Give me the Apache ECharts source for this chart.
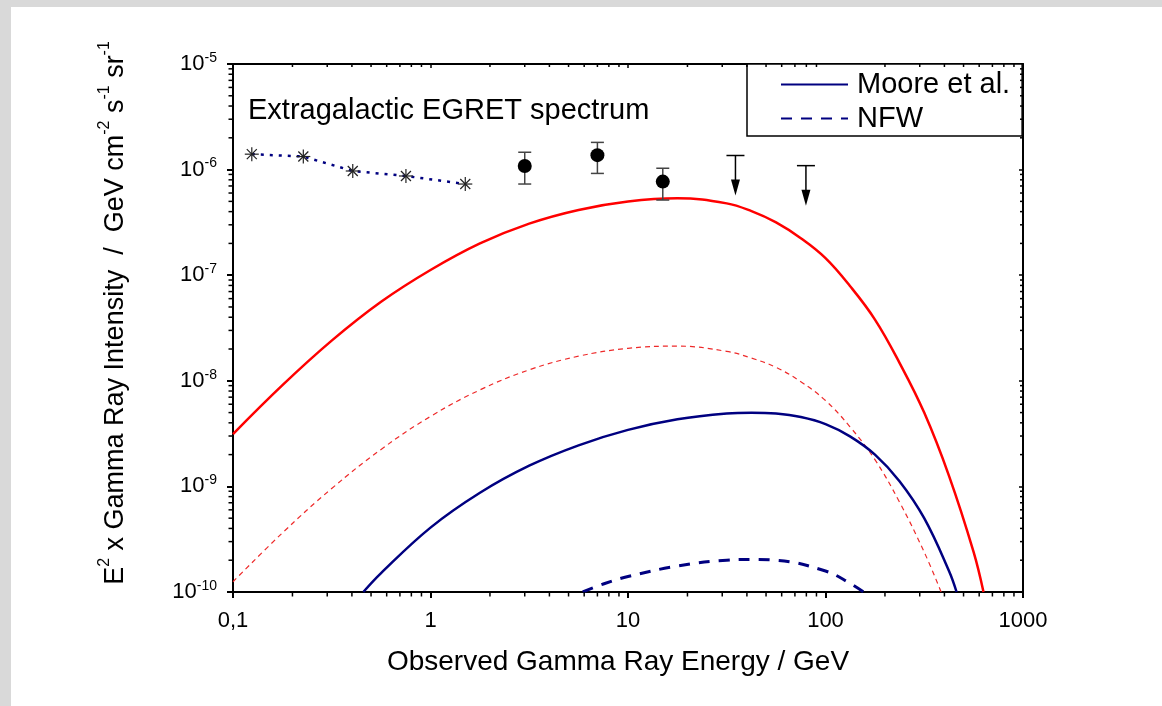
<!DOCTYPE html>
<html>
<head>
<meta charset="utf-8">
<script src="https://cdn.jsdelivr.net/npm/echarts@6/dist/echarts.min.js"></script>
<style>
html,body{margin:0;padding:0;background:#fff;}
#bg{position:absolute;left:0;top:0;width:1162px;height:706px;background:#d9d9d9;}
#panel{position:absolute;left:11px;top:7px;width:1151px;height:699px;background:#fff;}
#chart{position:absolute;left:0;top:0;width:1162px;height:706px;}
</style>
</head>
<body>
<div id="bg"><div id="panel"></div></div>
<div id="chart"></div>
<script>
// ---- tick labels ----
const xTickLabels = ['0,1', '1', '10', '100', '1000'];
const yTickExps = ['-10', '-9', '-8', '-7', '-6', '-5'];
const minorMultipliers = [2, 3, 4, 5, 6, 7, 8, 9];
const xDecades = [0.1, 1, 10, 100];
const yDecades = [1e-10, 1e-9, 1e-8, 1e-7, 1e-6];

// ---- curves (energy GeV, E^2 x intensity) ----
const redSolidE = [0.1, 0.178, 0.316, 0.562, 1.0, 1.78, 3.16, 5.62, 10, 17.8, 31.6, 42.2, 56.2, 75, 100, 133, 178, 237, 316, 422, 562, 631];
const redSolidI = [3.13e-9, 9.1e-9, 2.4e-8, 5.6e-8, 1.12e-7, 2.0e-7, 3.08e-7, 4.15e-7, 4.99e-7, 5.35e-7, 4.79e-7, 4.04e-7, 3.16e-7, 2.24e-7, 1.45e-7, 7.9e-8, 3.8e-8, 1.48e-8, 5.0e-9, 1.26e-9, 2.4e-10, 1.0e-10];

const redDashE = [0.1, 0.178, 0.316, 0.562, 1.0, 1.78, 3.16, 5.62, 10, 17.8, 31.6, 42.2, 56.2, 75, 100, 133, 178, 237, 316, 385];
const redDashI = [1.25e-10, 3.63e-10, 9.55e-10, 2.24e-9, 4.6e-9, 8.2e-9, 1.27e-8, 1.71e-8, 2.03e-8, 2.13e-8, 1.9e-8, 1.64e-8, 1.34e-8, 9.8e-9, 6.5e-9, 3.67e-9, 1.79e-9, 7.1e-10, 2.39e-10, 1.0e-10];

const mooreE = [0.457, 0.562, 1.0, 1.78, 3.16, 5.62, 10, 17.8, 31.6, 42.2, 56.2, 75, 100, 133, 178, 237, 316, 422, 461];
const mooreI = [1.0e-10, 1.51e-10, 4.07e-10, 8.7e-10, 1.57e-9, 2.45e-9, 3.43e-9, 4.32e-9, 4.9e-9, 4.99e-9, 4.9e-9, 4.54e-9, 3.89e-9, 2.98e-9, 2.0e-9, 1.12e-9, 5.0e-10, 1.58e-10, 1.0e-10];

const nfwE = [5.9, 7.5, 10, 17.8, 31.6, 42.2, 56.2, 100, 133, 156];
const nfwI = [1.0e-10, 1.19e-10, 1.40e-10, 1.76e-10, 2.0e-10, 2.03e-10, 2.0e-10, 1.58e-10, 1.21e-10, 1.0e-10];

// ---- EGRET data ----
const egretLowE = [0.1245, 0.227, 0.404, 0.751, 1.5];
const egretLowI = [1.40e-6, 1.33e-6, 0.97e-6, 0.87e-6, 0.73e-6];

const egretHighE = [3.0, 7.0, 15.0];
const egretHighI = [1.08e-6, 1.37e-6, 7.7e-7];
const egretHighLo = [7.3e-7, 9.2e-7, 5.15e-7];
const egretHighHi = [1.46e-6, 1.81e-6, 1.03e-6];

const upperLimitE = [35, 79.6];
const upperLimitI = [1.36e-6, 1.09e-6];

// ---- build ----
const zip = (a, b) => a.map((v, i) => [v, b[i]]);
const minorData = [];
xDecades.forEach(d => minorMultipliers.forEach(m => {
  minorData.push([m * d, 1e-10, 0]);
  minorData.push([m * d, 1e-5, 1]);
}));
yDecades.forEach(d => minorMultipliers.forEach(m => {
  minorData.push([0.1, m * d, 2]);
  minorData.push([1000, m * d, 3]);
}));

const FONT = '"Liberation Sans", Arial, Helvetica, sans-serif';
const NAVY = '#000080';
const SMOOTH = 0.4;

const chart = echarts.init(document.getElementById('chart'), null, {renderer: 'canvas'});

const axisCommon = {
  axisLine: {show: true, onZero: false, lineStyle: {color: '#000', width: 2}},
  splitLine: {show: false},
  minorTick: {show: false},
  minorSplitLine: {show: false}
};

const option = {
  backgroundColor: 'transparent',
  animation: false,
  textStyle: {fontFamily: FONT, color: '#000'},
  title: {
    text: 'Extragalactic EGRET spectrum',
    left: 248, top: 96, padding: 0,
    textStyle: {fontFamily: FONT, fontSize: 29, fontWeight: 'normal', color: '#000'}
  },
  legend: {
    data: ['Moore et al.', 'NFW'],
    orient: 'vertical',
    left: 747, top: 64,
    padding: [6, 12, 3, 33],
    itemWidth: 67, itemHeight: 14, itemGap: 5,
    borderColor: '#000', borderWidth: 1.5, borderRadius: 0,
    backgroundColor: '#fff',
    selectedMode: false,
    itemStyle: {color: 'rgba(0,0,0,0)', borderColor: 'rgba(0,0,0,0)', borderWidth: 0, opacity: 0},
    textStyle: {fontFamily: FONT, fontSize: 29, color: '#000', lineHeight: 28, padding: [0, 0, 0, 4]}
  },
  grid: {left: 233, top: 64, width: 790, height: 528, containLabel: false},
  xAxis: [
    Object.assign({}, axisCommon, {
      type: 'log', logBase: 10, min: 0.1, max: 1000, splitNumber: 4,
      position: 'bottom',
      axisTick: {show: true, inside: false, length: 6, lineStyle: {color: '#000', width: 2}},
      axisLabel: {
        show: true, margin: 18, fontSize: 22, color: '#000', fontFamily: FONT,
        formatter: (v, i) => xTickLabels[i]
      },
      name: 'Observed Gamma Ray Energy / GeV',
      nameLocation: 'middle', nameGap: 56,
      nameTextStyle: {fontSize: 28, color: '#000', fontFamily: FONT, padding: [0, 20, 0, 0]}
    }),
    Object.assign({}, axisCommon, {
      type: 'log', logBase: 10, min: 0.1, max: 1000, splitNumber: 4,
      position: 'top',
      axisTick: {show: true, inside: true, length: 4, lineStyle: {color: '#000', width: 1.5}},
      axisLabel: {show: false}
    })
  ],
  yAxis: [
    Object.assign({}, axisCommon, {
      type: 'log', logBase: 10, min: 1e-10, max: 1e-5, splitNumber: 5,
      position: 'left',
      axisTick: {show: true, inside: false, length: 6, lineStyle: {color: '#000', width: 2}},
      axisLabel: {
        show: true, margin: 16, color: '#000', fontFamily: FONT,
        formatter: (v, i) => '{b|10}{s|' + yTickExps[i] + '}',
        rich: {
          b: {fontSize: 22, lineHeight: 26, verticalAlign: 'middle', fontFamily: FONT, color: '#000'},
          s: {fontSize: 14, lineHeight: 26, verticalAlign: 'top', fontFamily: FONT, color: '#000'}
        }
      },
      name: '{m|E}{s|2}{m| x Gamma Ray Intensity  /  GeV cm}{s|-2}{m| s}{s|-1}{m| sr}{s|-1}',
      nameLocation: 'middle', nameGap: 104, nameRotate: 90,
      nameTextStyle: {
        fontFamily: FONT, color: '#000', padding: [0, 0, 0, 30],
        rich: {
          m: {fontSize: 27, lineHeight: 32, verticalAlign: 'bottom', fontFamily: FONT, color: '#000'},
          s: {fontSize: 16, lineHeight: 32, verticalAlign: 'top', fontFamily: FONT, color: '#000'}
        }
      }
    }),
    Object.assign({}, axisCommon, {
      type: 'log', logBase: 10, min: 1e-10, max: 1e-5, splitNumber: 5,
      position: 'right',
      axisTick: {show: true, inside: true, length: 4, lineStyle: {color: '#000', width: 1.5}},
      axisLabel: {show: false}
    })
  ],
  series: [
    {
      name: 'Moore (red)', type: 'line', data: zip(redSolidE, redSolidI),
      showSymbol: false, symbol: 'none', smooth: SMOOTH,
      lineStyle: {color: '#ff0000', width: 2.5}, z: 3
    },
    {
      name: 'NFW (red)', type: 'line', data: zip(redDashE, redDashI),
      showSymbol: false, symbol: 'none', smooth: SMOOTH,
      lineStyle: {color: '#ee2a2a', width: 1.2, type: [5, 4]}, z: 3
    },
    {
      name: 'Moore et al.', type: 'line', data: zip(mooreE, mooreI),
      showSymbol: false, symbol: 'none', smooth: SMOOTH,
      itemStyle: {color: NAVY},
      lineStyle: {color: NAVY, width: 2.5}, z: 3
    },
    {
      name: 'NFW', type: 'line', data: zip(nfwE, nfwI),
      showSymbol: false, symbol: 'none', smooth: SMOOTH,
      itemStyle: {color: NAVY},
      lineStyle: {color: NAVY, width: 3, type: [11, 9]}, z: 3
    },
    {
      name: 'EGRET low', type: 'line', data: zip(egretLowE, egretLowI),
      showSymbol: false, symbol: 'none',
      lineStyle: {color: NAVY, width: 2.5, type: [3, 6]}, z: 4
    },
    {
      name: 'EGRET low markers', type: 'custom', data: zip(egretLowE, egretLowI),
      silent: true, z: 5,
      renderItem: (params, api) => {
        const p = api.coord([api.value(0), api.value(1)]);
        const r = 7, d = 5;
        const st = {stroke: '#222', lineWidth: 1.2};
        return {type: 'group', children: [
          {type: 'line', shape: {x1: p[0], y1: p[1] - r, x2: p[0], y2: p[1] + r}, style: st},
          {type: 'line', shape: {x1: p[0] - r, y1: p[1], x2: p[0] + r, y2: p[1]}, style: st},
          {type: 'line', shape: {x1: p[0] - d, y1: p[1] - d, x2: p[0] + d, y2: p[1] + d}, style: st},
          {type: 'line', shape: {x1: p[0] - d, y1: p[1] + d, x2: p[0] + d, y2: p[1] - d}, style: st}
        ]};
      }
    },
    {
      name: 'EGRET errors', type: 'custom',
      data: egretHighE.map((e, i) => [e, egretHighI[i], egretHighLo[i], egretHighHi[i]]),
      silent: true, z: 5,
      renderItem: (params, api) => {
        const top = api.coord([api.value(0), api.value(3)]);
        const bot = api.coord([api.value(0), api.value(2)]);
        const w = 6.5;
        const st = {stroke: '#444', lineWidth: 1.5};
        return {type: 'group', children: [
          {type: 'line', shape: {x1: top[0], y1: top[1], x2: bot[0], y2: bot[1]}, style: st},
          {type: 'line', shape: {x1: top[0] - w, y1: top[1], x2: top[0] + w, y2: top[1]}, style: st},
          {type: 'line', shape: {x1: bot[0] - w, y1: bot[1], x2: bot[0] + w, y2: bot[1]}, style: st}
        ]};
      }
    },
    {
      name: 'EGRET', type: 'scatter', data: zip(egretHighE, egretHighI),
      symbol: 'circle', symbolSize: 14,
      itemStyle: {color: '#000', opacity: 1}, z: 6
    },
    {
      name: 'Upper limits', type: 'custom', data: zip(upperLimitE, upperLimitI),
      silent: true, z: 5,
      renderItem: (params, api) => {
        const p = api.coord([api.value(0), api.value(1)]);
        const len = 40, head = 16, hw = 4.5, cw = 9;
        const st = {stroke: '#000', lineWidth: 1.5};
        return {type: 'group', children: [
          {type: 'line', shape: {x1: p[0] - cw, y1: p[1], x2: p[0] + cw, y2: p[1]}, style: st},
          {type: 'line', shape: {x1: p[0], y1: p[1], x2: p[0], y2: p[1] + len - head + 1}, style: st},
          {type: 'polygon', shape: {points: [[p[0] - hw, p[1] + len - head], [p[0] + hw, p[1] + len - head], [p[0], p[1] + len]]}, style: {fill: '#000'}}
        ]};
      }
    },
    {
      name: 'minor ticks', type: 'custom', data: minorData,
      silent: true, z: 10, clip: false,
      encode: {x: 0, y: 1},
      renderItem: (params, api) => {
        const side = api.value(2);
        const p = api.coord([api.value(0), api.value(1)]);
        let shape;
        if (side === 0) shape = {x1: p[0], y1: p[1], x2: p[0], y2: p[1] + 4.5};
        else if (side === 1) shape = {x1: p[0], y1: p[1], x2: p[0], y2: p[1] + 3};
        else if (side === 2) shape = {x1: p[0], y1: p[1], x2: p[0] - 4.5, y2: p[1]};
        else shape = {x1: p[0], y1: p[1], x2: p[0] - 3, y2: p[1]};
        return {type: 'line', shape: shape, style: {stroke: '#000', lineWidth: 1.5}};
      }
    }
  ]
};
chart.setOption(option);
</script>
</body>
</html>
